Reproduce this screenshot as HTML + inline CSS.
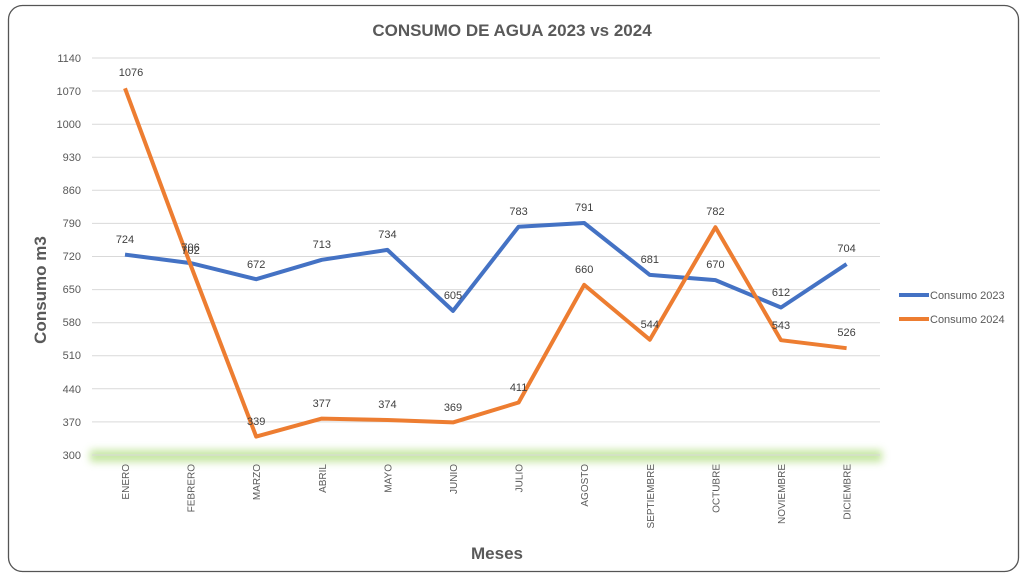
<!DOCTYPE html>
<html><head><meta charset="utf-8"><style>
html,body{margin:0;padding:0;background:#fff;}
svg{display:block;font-family:"Liberation Sans",sans-serif;}
</style></head><body>
<svg width="1024" height="577" viewBox="0 0 1024 577" xmlns="http://www.w3.org/2000/svg">
<defs><filter id="g" x="-5%" y="-100%" width="110%" height="300%"><feGaussianBlur stdDeviation="4"/></filter></defs>
<rect x="8.5" y="5.5" width="1010" height="566" rx="14" fill="#fff" stroke="#555" stroke-width="1.3"/>
<text x="512" y="36" text-anchor="middle" font-size="17" font-weight="bold" fill="#595959">CONSUMO DE AGUA 2023 vs 2024</text>
<rect x="90" y="450" width="792" height="12" fill="#b7e08a" opacity="0.8" filter="url(#g)"/>
<g stroke="#d9d9d9" stroke-width="1">
<line x1="92" x2="880" y1="58" y2="58"/><line x1="92" x2="880" y1="91" y2="91"/><line x1="92" x2="880" y1="124.2" y2="124.2"/><line x1="92" x2="880" y1="157.2" y2="157.2"/><line x1="92" x2="880" y1="190.3" y2="190.3"/><line x1="92" x2="880" y1="223.4" y2="223.4"/><line x1="92" x2="880" y1="256.5" y2="256.5"/><line x1="92" x2="880" y1="289.6" y2="289.6"/><line x1="92" x2="880" y1="322.7" y2="322.7"/><line x1="92" x2="880" y1="355.8" y2="355.8"/><line x1="92" x2="880" y1="388.8" y2="388.8"/><line x1="92" x2="880" y1="421.9" y2="421.9"/><line x1="92" x2="880" y1="455" y2="455"/>
</g>
<g font-size="11" fill="#595959" text-anchor="end">
<text x="81" y="62">1140</text><text x="81" y="95">1070</text><text x="81" y="128">1000</text><text x="81" y="161">930</text><text x="81" y="194">860</text><text x="81" y="227">790</text><text x="81" y="260">720</text><text x="81" y="293">650</text><text x="81" y="326">580</text><text x="81" y="359">510</text><text x="81" y="393">440</text><text x="81" y="426">370</text><text x="81" y="459">300</text>
</g>
<text transform="translate(46,290) rotate(-90)" text-anchor="middle" font-size="17" font-weight="bold" fill="#595959">Consumo m3</text>
<text x="497" y="559" text-anchor="middle" font-size="17" font-weight="bold" fill="#595959">Meses</text>
<g font-size="10" fill="#595959" text-anchor="end">
<text transform="translate(129,464) rotate(-90)">ENERO</text>
<text transform="translate(194.6,464) rotate(-90)">FEBRERO</text>
<text transform="translate(260.2,464) rotate(-90)">MARZO</text>
<text transform="translate(325.8,464) rotate(-90)">ABRIL</text>
<text transform="translate(391.4,464) rotate(-90)">MAYO</text>
<text transform="translate(457,464) rotate(-90)">JUNIO</text>
<text transform="translate(522.6,464) rotate(-90)">JULIO</text>
<text transform="translate(588.2,464) rotate(-90)">AGOSTO</text>
<text transform="translate(653.8,464) rotate(-90)">SEPTIEMBRE</text>
<text transform="translate(719.4,464) rotate(-90)">OCTUBRE</text>
<text transform="translate(785,464) rotate(-90)">NOVIEMBRE</text>
<text transform="translate(850.6,464) rotate(-90)">DICIEMBRE</text>
</g>
<polyline fill="none" stroke="#4472c4" stroke-width="4" stroke-linejoin="round" points="125,254.6 190.6,263.1 256.2,279.2 321.8,259.8 387.4,249.9 453,310.9 518.6,226.7 584.2,223 649.8,274.9 715.4,280.1 781,307.5 846.6,264.1"/>
<polyline fill="none" stroke="#ed7d31" stroke-width="4" stroke-linejoin="round" points="125,88.3 190.6,265 256.2,436.6 321.8,418.6 387.4,420 453,422.4 518.6,402.5 584.2,284.9 649.8,339.7 715.4,227.2 781,340.2 846.6,348.2"/>
<g font-size="11" fill="#404040" text-anchor="middle">
<text x="125" y="243">724</text><text x="190.6" y="251">706</text><text x="256.2" y="268">672</text><text x="321.8" y="248">713</text><text x="387.4" y="238">734</text><text x="453" y="299">605</text><text x="518.6" y="215">783</text><text x="584.2" y="211">791</text><text x="649.8" y="263">681</text><text x="715.4" y="268">670</text><text x="781" y="296">612</text><text x="846.6" y="252">704</text>
<text x="131" y="76">1076</text><text x="190.6" y="254">702</text><text x="256.2" y="425">339</text><text x="321.8" y="407">377</text><text x="387.4" y="408">374</text><text x="453" y="411">369</text><text x="518.6" y="391">411</text><text x="584.2" y="273">660</text><text x="649.8" y="328">544</text><text x="715.4" y="215">782</text><text x="781" y="329">543</text><text x="846.6" y="336">526</text>
</g>
<line x1="899" x2="929" y1="295" y2="295" stroke="#4472c4" stroke-width="4"/>
<text x="930" y="299" font-size="11" fill="#595959">Consumo 2023</text>
<line x1="899" x2="929" y1="319" y2="319" stroke="#ed7d31" stroke-width="4"/>
<text x="930" y="323" font-size="11" fill="#595959">Consumo 2024</text>
</svg>
</body></html>
